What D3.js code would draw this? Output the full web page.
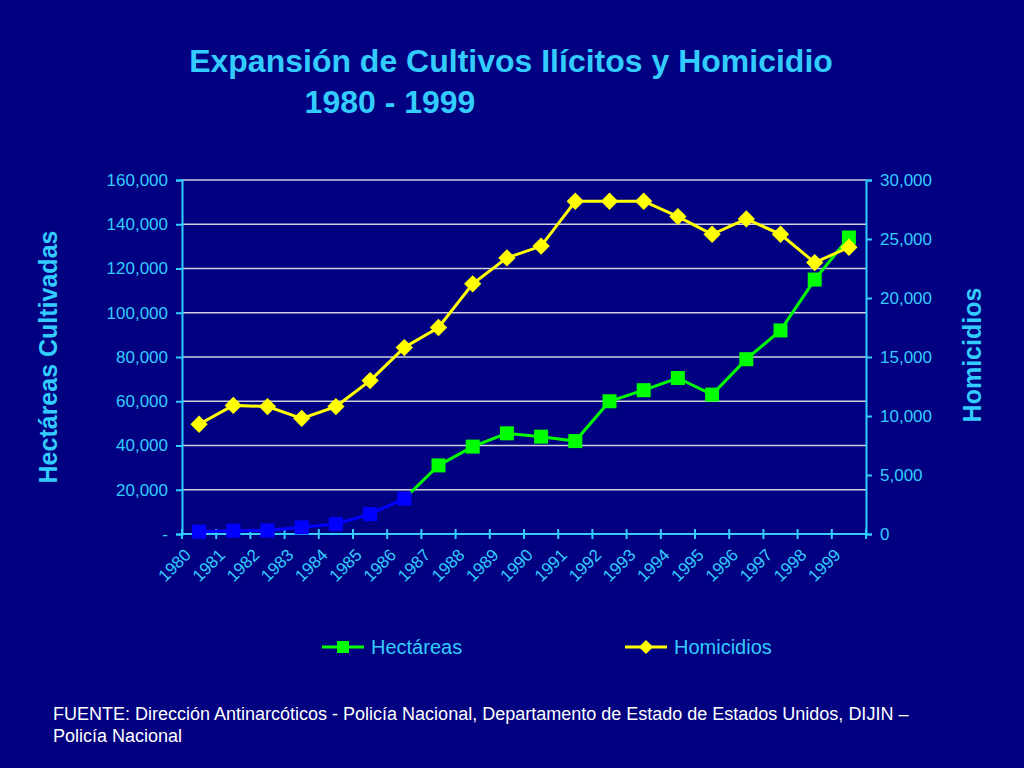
<!DOCTYPE html>
<html><head><meta charset="utf-8">
<script src="https://cdn.jsdelivr.net/npm/d3@7"></script>
<style>
body{margin:0;background:#000080;}
text{font-family:"Liberation Sans",Arial,sans-serif;}
</style></head>
<body><svg id="chart" width="1024" height="768"></svg>
<script>
// data
var years = d3.range(1980, 2000).map(String);
var hectareas = [1000, 1500, 1600, 3000, 4500, 9000, 16000, 31000, 39500, 45500,
                 44000, 42000, 60000, 65000, 70500, 63000, 79000, 92000, 115000, 134000];
var homicidios = [9300, 10900, 10800, 9800, 10800, 13000, 15800, 17500, 21200, 23400,
                  24400, 28200, 28200, 28200, 26900, 25400, 26700, 25400, 23000, 24300];
var leftTicks = [0, 20000, 40000, 60000, 80000, 100000, 120000, 140000, 160000];
var rightTicks = [0, 5000, 10000, 15000, 20000, 25000, 30000];

(function() {
var cyan = "#33ccff", green = "#00ff00", yellow = "#ffff00", blue = "#0000ff";
var svg = d3.select("#chart");
svg.append("rect").attr("width", 1024).attr("height", 768).attr("fill", "#000080");

var mLeft = 182, mRight = 866, mTop = 180, mBottom = 534;
var x = d3.scaleBand().domain(years).range([mLeft, mRight]);
var yL = d3.scaleLinear().domain([0, 160000]).range([mBottom, mTop]);
var yR = d3.scaleLinear().domain([0, 30000]).range([mBottom, mTop]);

// title
svg.append("text").attr("x", 511).attr("y", 72).attr("text-anchor", "middle")
    .attr("fill", cyan).attr("font-size", 32).attr("font-weight", "bold")
    .text("Expansión de Cultivos Ilícitos y Homicidio");
svg.append("text").attr("x", 390).attr("y", 113).attr("text-anchor", "middle")
    .attr("fill", cyan).attr("font-size", 32).attr("font-weight", "bold")
    .text("1980 - 1999");

// gridlines
svg.append("g").selectAll("line").data(leftTicks.slice(1)).enter().append("line")
    .attr("x1", mLeft).attr("x2", mRight)
    .attr("y1", function(d) { return yL(d); }).attr("y2", function(d) { return yL(d); })
    .attr("stroke", "#d0d0e0").attr("stroke-width", 1.5);

// axes
var gL = svg.append("g").attr("transform", "translate(" + mLeft + ",0)")
    .call(d3.axisLeft(yL).tickValues(leftTicks).tickSize(6).tickPadding(8)
        .tickFormat(function(d) { return d === 0 ? "-" : d3.format(",")(d); }));
var gR = svg.append("g").attr("transform", "translate(" + mRight + ",0)")
    .call(d3.axisRight(yR).tickValues(rightTicks).tickSize(6).tickPadding(8)
        .tickFormat(d3.format(",")));
var xTicks = d3.range(0, 21).map(function(i) { return mLeft + i * x.bandwidth(); });
var gX = svg.append("g");
gX.append("line").attr("x1", mLeft).attr("x2", mRight).attr("y1", mBottom).attr("y2", mBottom);
gX.selectAll(".t").data(xTicks).enter().append("line")
    .attr("x1", function(d) { return d; }).attr("x2", function(d) { return d; })
    .attr("y1", mBottom - 5).attr("y2", mBottom + 5);
gX.selectAll("text").data(years).enter().append("text")
    .attr("transform", function(d, i) {
        return "translate(" + (xTicks[i] + 10) + "," + (mBottom + 22) + ") rotate(-45)";
    })
    .attr("text-anchor", "end").attr("font-size", 17).attr("fill", cyan)
    .text(function(d) { return d; });
[gL, gR].forEach(function(g) {
    g.select(".domain").attr("stroke", cyan).attr("stroke-width", 2);
    g.selectAll(".tick line").attr("stroke", cyan).attr("stroke-width", 2);
    g.selectAll(".tick text").attr("fill", cyan).attr("font-size", 17);
});
gX.selectAll("line").attr("stroke", cyan).attr("stroke-width", 2);

// axis titles
svg.append("text").attr("transform", "translate(57,357) rotate(-90)")
    .attr("text-anchor", "middle").attr("fill", cyan).attr("font-size", 25).attr("font-weight", "bold")
    .text("Hectáreas Cultivadas");
svg.append("text").attr("transform", "translate(981,355) rotate(-90)")
    .attr("text-anchor", "middle").attr("fill", cyan).attr("font-size", 25).attr("font-weight", "bold")
    .text("Homicidios");

function cx(d, i) { return x(years[i]) + x.bandwidth() / 2; }

// hectareas line: blue for first 7 points, green after
var pts = hectareas.map(function(d, i) { return [cx(d, i), yL(d)]; });
svg.append("path").attr("d", d3.line()(pts.slice(0, 7))).attr("fill", "none")
    .attr("stroke", blue).attr("stroke-width", 3);
svg.append("path").attr("d", d3.line()(pts.slice(6))).attr("fill", "none")
    .attr("stroke", green).attr("stroke-width", 3);
svg.append("g").selectAll("rect").data(hectareas).enter().append("rect")
    .attr("x", function(d, i) { return cx(d, i) - 7; })
    .attr("y", function(d) { return yL(d) - 7; })
    .attr("width", 14).attr("height", 14)
    .attr("fill", function(d, i) { return i < 7 ? blue : green; });

// homicidios line
svg.append("path").datum(homicidios)
    .attr("d", d3.line().x(cx).y(function(d) { return yR(d); }))
    .attr("fill", "none").attr("stroke", yellow).attr("stroke-width", 3);
svg.append("g").selectAll("path").data(homicidios).enter().append("path")
    .attr("d", d3.symbol().type(d3.symbolSquare).size(150))
    .attr("transform", function(d, i) { return "translate(" + cx(d, i) + "," + yR(d) + ") rotate(45)"; })
    .attr("fill", yellow);

// legend
var lg = svg.append("g");
lg.append("line").attr("x1", 322).attr("x2", 364).attr("y1", 647).attr("y2", 647)
    .attr("stroke", green).attr("stroke-width", 3);
lg.append("rect").attr("x", 337).attr("y", 641).attr("width", 12).attr("height", 12).attr("fill", green);
lg.append("text").attr("x", 371).attr("y", 654).attr("fill", cyan).attr("font-size", 20).text("Hectáreas");
lg.append("line").attr("x1", 625).attr("x2", 667).attr("y1", 647).attr("y2", 647)
    .attr("stroke", yellow).attr("stroke-width", 3);
lg.append("path").attr("d", d3.symbol().type(d3.symbolSquare).size(100))
    .attr("transform", "translate(646,647) rotate(45)").attr("fill", yellow);
lg.append("text").attr("x", 674).attr("y", 654).attr("fill", cyan).attr("font-size", 20).text("Homicidios");

// source
svg.append("text").attr("x", 53).attr("y", 720).attr("fill", "#ffffff").attr("font-size", 18)
    .text("FUENTE: Dirección Antinarcóticos - Policía Nacional, Departamento de Estado de Estados Unidos, DIJIN –");
svg.append("text").attr("x", 53).attr("y", 742).attr("fill", "#ffffff").attr("font-size", 18)
    .text("Policía Nacional");
})();
</script></body></html>
